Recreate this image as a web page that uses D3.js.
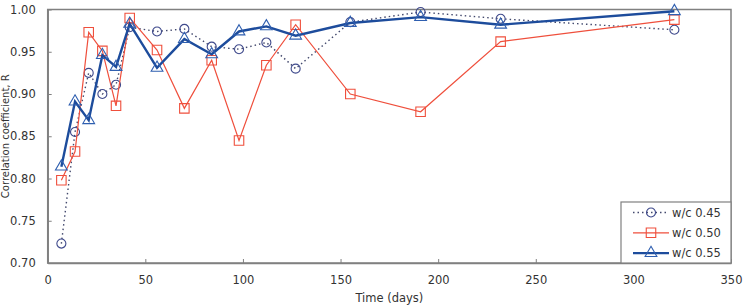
<!DOCTYPE html>
<html>
<head>
<meta charset="utf-8">
<script src="https://cdn.jsdelivr.net/npm/d3@7"></script>
<style>
  body { margin: 0; background: #fff; }
  svg text { font-family: "DejaVu Sans", Verdana, sans-serif; fill: #333; }
</style>
</head>
<body>
<div id="chart"></div>
<script>
// sample ages (days)
var days = [7, 14, 21, 28, 35, 42, 56, 70, 84, 98, 112, 127, 155, 191, 232, 321];
// correlation coefficients per w/c ratio
var wc045 = [0.723, 0.855, 0.925, 0.900, 0.911, 0.979, 0.974, 0.977, 0.956, 0.953, 0.961, 0.930, 0.985, 0.997, 0.989, 0.976];
var wc050 = [0.798, 0.832, 0.973, 0.951, 0.886, 0.990, 0.952, 0.883, 0.940, 0.845, 0.934, 0.982, 0.900, 0.879, 0.962, 0.988];
var wc055 = [0.814, 0.891, 0.869, 0.946, 0.932, 0.983, 0.931, 0.965, 0.947, 0.974, 0.980, 0.969, 0.984, 0.991, 0.982, 0.998];
var seriesNames = ["w/c 0.45", "w/c 0.50", "w/c 0.55"];
var xTicks = [0, 50, 100, 150, 200, 250, 300, 350];
var yTicks = [0.70, 0.75, 0.80, 0.85, 0.90, 0.95, 1.00];

var W = 744, H = 305;
var margin = { top: 9.5, right: 13, bottom: 42, left: 47.7 };
var width = W - margin.left - margin.right,
    height = H - margin.top - margin.bottom;

var series = [
    { name: seriesNames[0], values: wc045, color: "#444a6e", marker: "#3f4a8c", width: 1.4, dash: "1.5,3", symbol: "circle" },
    { name: seriesNames[1], values: wc050, color: "#ef4f3c", marker: "#ef4f3c", width: 1.2, dash: null, symbol: "square" },
    { name: seriesNames[2], values: wc055, color: "#1d4c9c", marker: "#2f5fb0", width: 2.4, dash: null, symbol: "triangle" }
];

var svg = d3.select("#chart").append("svg")
    .attr("width", W)
    .attr("height", H);

var g = svg.append("g")
    .attr("transform", "translate(" + margin.left + "," + margin.top + ")");

var x = d3.scaleLinear().domain([0, 350]).range([0, width]);
var y = d3.scaleLinear().domain([0.70, 1.00]).range([height, 0]);

//Frame
g.append("rect")
    .attr("width", width)
    .attr("height", height)
    .attr("fill", "none")
    .attr("stroke", "#808080")
    .attr("stroke-width", 1.5);

//X axis, ticks pointing inward
var xAxis = g.append("g")
    .attr("transform", "translate(0," + height + ")")
    .call(d3.axisBottom(x).tickValues(xTicks).tickSizeInner(-4).tickSizeOuter(0).tickPadding(13));
xAxis.select(".domain").attr("stroke", "#808080").attr("stroke-width", 1.5);
xAxis.selectAll(".tick line").attr("stroke", "#808080");
xAxis.selectAll("text").style("font-size", "11.5px");

//Y axis
var yAxis = g.append("g")
    .call(d3.axisLeft(y).tickValues(yTicks).tickFormat(d3.format(".2f")).tickSizeInner(-4).tickSizeOuter(0).tickPadding(12));
yAxis.select(".domain").attr("stroke", "#808080").attr("stroke-width", 1.5);
yAxis.selectAll(".tick line").attr("stroke", "#808080");
yAxis.selectAll("text").style("font-size", "11.5px");

//Axis titles
svg.append("text")
    .attr("x", margin.left + x(175))
    .attr("y", 302)
    .attr("text-anchor", "middle")
    .style("font-size", "11.5px")
    .text("Time (days)");

svg.append("text")
    .attr("transform", "translate(8.5," + (margin.top + height / 2) + ") rotate(-90)")
    .attr("text-anchor", "middle")
    .style("font-size", "10px")
    .text("Correlation coefficient, R");

var symbols = { circle: d3.symbolCircle, square: d3.symbolSquare, triangle: d3.symbolTriangle };
var symSize = { circle: 64, square: 90, triangle: 60 };

function drawMarker(sel, s) {
    sel.attr("d", d3.symbol().type(symbols[s.symbol]).size(symSize[s.symbol]))
        .attr("fill", "none")
        .attr("stroke", s.marker)
        .attr("stroke-width", 1.1);
}

var line = d3.line()
    .x((d, i) => x(days[i]))
    .y(d => y(d));

series.forEach(function (s) {
    var sg = g.append("g").attr("class", "series");
    sg.append("path")
        .datum(s.values)
        .attr("d", line)
        .attr("fill", "none")
        .attr("stroke", s.color)
        .attr("stroke-width", s.width)
        .attr("stroke-dasharray", s.dash);

    sg.selectAll(".pt")
        .data(s.values)
        .enter().append("path")
        .attr("class", "pt")
        .attr("transform", (d, i) => "translate(" + x(days[i]) + "," + y(d) + ")")
        .call(drawMarker, s);
});

//Legend
var lw = 110, lh = 61;
var legend = g.append("g")
    .attr("transform", "translate(" + (width - lw) + "," + (height - lh) + ")");
legend.append("rect")
    .attr("width", lw)
    .attr("height", lh)
    .attr("fill", "#fff")
    .attr("stroke", "#808080")
    .attr("stroke-width", 1.2);

series.forEach(function (s, i) {
    var ly = 10.5 + i * 20.3;
    legend.append("line")
        .attr("x1", 12).attr("x2", 48)
        .attr("y1", ly).attr("y2", ly)
        .attr("stroke", s.color)
        .attr("stroke-width", s.width)
        .attr("stroke-dasharray", s.dash);
    legend.append("path")
        .attr("transform", "translate(30," + ly + ")")
        .call(drawMarker, s);
    legend.append("text")
        .attr("x", 51)
        .attr("y", ly + 4)
        .style("font-size", "11.5px")
        .text(s.name);
});
</script>
</body>
</html>
